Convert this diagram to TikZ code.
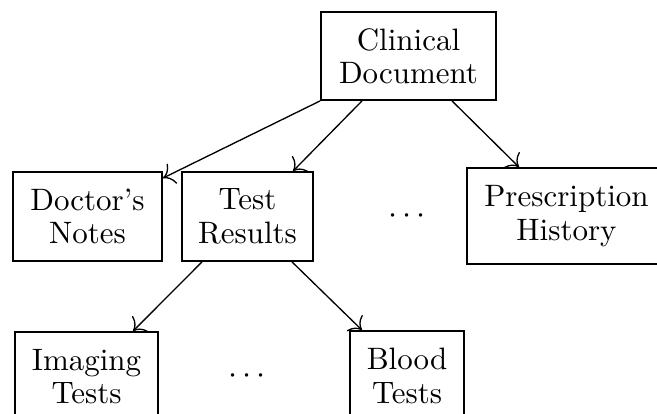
\documentclass[tikz,border=0pt]{standalone}
\usetikzlibrary{calc,arrows.meta}
\newcommand\pxlen{0.339pt}
\begin{document}
\begin{tikzpicture}[x=0.339pt,y=-0.339pt,
  box/.style={draw, line width=0.6pt, align=center, inner sep=0pt,
    font=\fontsize{10.5}{11.3}\selectfont},
  arr/.style={-{To[scale=1.4]}, line width=0.45pt},
  dots/.style={inner sep=0pt, font=\fontsize{10.5}{12}\selectfont}]
\useasboundingbox (0,0) rectangle (657,413);
\clip (0,0) rectangle (657,413);

% top level
\node[box, minimum width={175*\pxlen}, minimum height={88*\pxlen}] (cd) at (408.5,56) {Clinical\\Document};

% second level
\node[box, minimum width={149*\pxlen}, minimum height={89*\pxlen}] (dn) at (87.5,216.5) {Doctor's\\Notes};
\node[box, minimum width={131*\pxlen}, minimum height={89*\pxlen}] (tr) at (247.5,216.5) {Test\\Results};
\node[dots] (d1) at (407,216) {$\cdots$};
\node[box, minimum width={199*\pxlen}, minimum height={96*\pxlen}] (ph) at (566.5,216) {Prescription\\History};

% third level
\node[box, minimum width={143*\pxlen}, minimum height={89*\pxlen}] (it) at (86.5,376.5) {Imaging\\Tests};
\node[dots] (d2) at (247,376) {$\cdots$};
\node[box, minimum width={114*\pxlen}, minimum height={90*\pxlen}] (bt) at (407,376) {Blood\\Tests};

% connectors
\draw[arr] (cd.south west) -- ($(dn.north east)+(0,7)$);
\draw[arr] ($(cd.south)+(-46.5,0)$) -- ($(tr.north)+(45.5,0)$);
\draw[arr] ($(cd.south)+(43.5,0)$) -- ($(ph.north)+(-47.5,0)$);
\draw[arr] ($(tr.south)+(-45.5,0)$) -- ($(it.north)+(46.5,0)$);
\draw[arr] ($(tr.south)+(44.5,0)$) -- ($(bt.north)+(-45,0)$);
\end{tikzpicture}
\end{document}
